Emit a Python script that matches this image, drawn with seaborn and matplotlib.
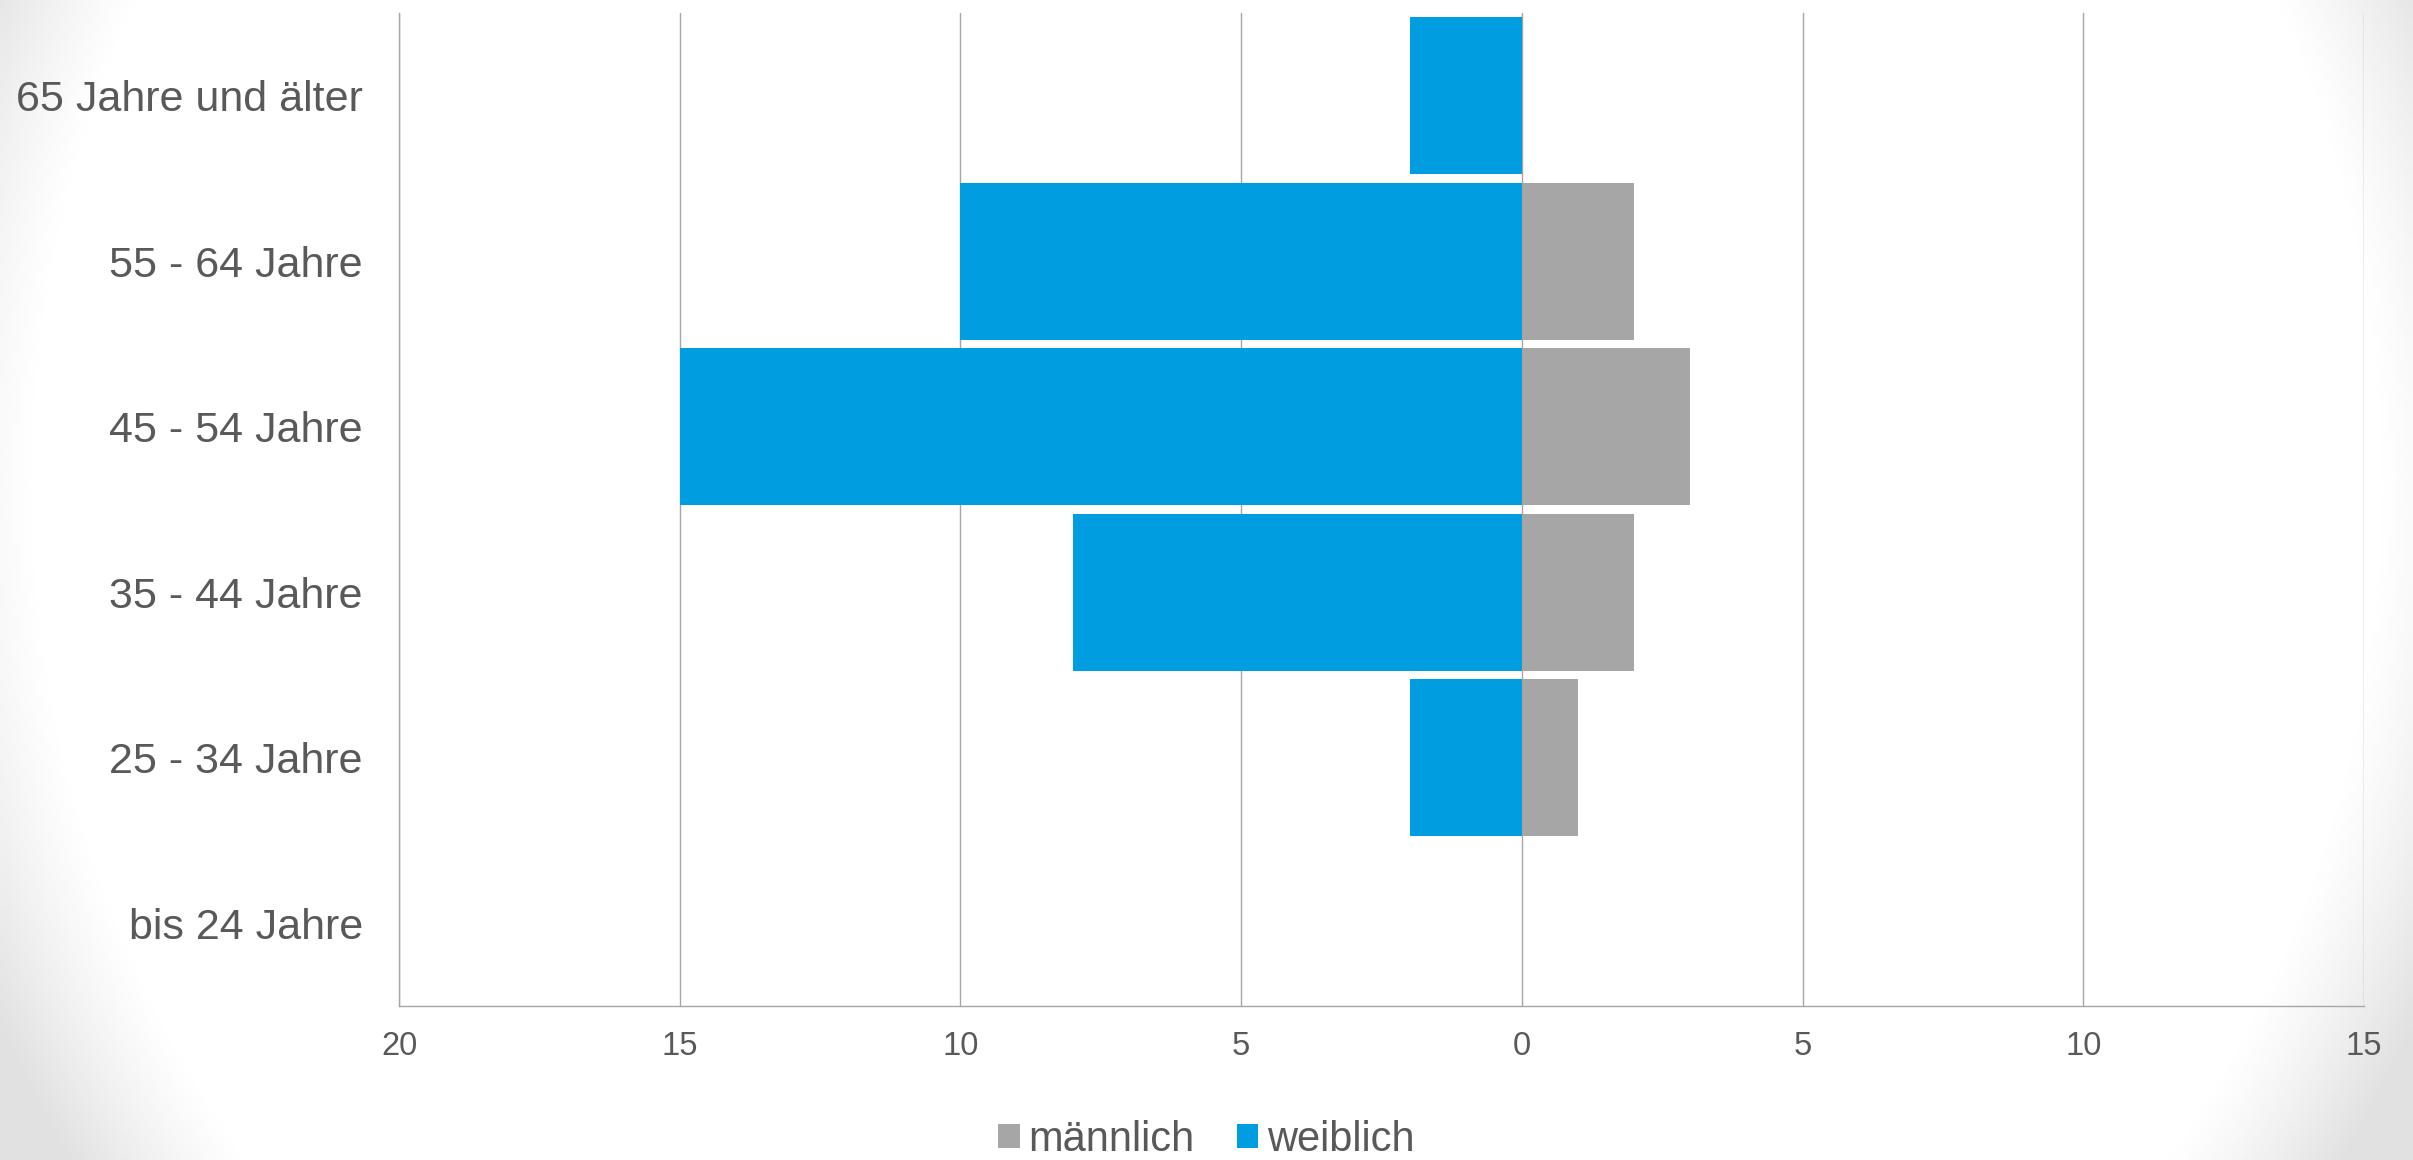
import numpy as np
import pandas as pd
import matplotlib
matplotlib.use("Agg")
import matplotlib.pyplot as plt
from matplotlib.patches import Patch
from matplotlib.ticker import FuncFormatter
import seaborn as sns

categories = ["65 Jahre und älter", "55 - 64 Jahre", "45 - 54 Jahre",
              "35 - 44 Jahre", "25 - 34 Jahre", "bis 24 Jahre"]
maennlich = [0, 2, 3, 2, 1, 0]
weiblich = [2, 10, 15, 8, 2, 0]
series_names = ["männlich", "weiblich"]
x_ticks = [-20, -15, -10, -5, 0, 5, 10, 15]

COL_M = "#A6A6A6"
COL_W = "#009EE0"
TXT = "#595959"
GRID = "#A6A6A6"

sns.set_theme(style="white")
plt.rcParams["font.family"] = ["Liberation Sans", "DejaVu Sans"]

fig = plt.figure(figsize=(24.13, 11.6), dpi=100)

# background vignette (faint on the side edges, strongest in the corners)
bg = fig.add_axes([0, 0, 1, 1], zorder=-10)
yy, xx = np.mgrid[0:1:400j, 0:1:800j]
dx = (xx - 0.5) / 0.5
dy = (yy - 0.4175) / 0.5
r = np.sqrt(dx ** 2 + (0.48 * dy) ** 2)
t = np.clip((r - 0.97) / 0.13, 0, 1) ** 1.2
v = 1 - 0.12 * t
bg.imshow(v, cmap="gray", vmin=0, vmax=1, aspect="auto", extent=[0, 1, 0, 1],
          interpolation="bilinear")
bg.set_axis_off()

ax = fig.add_axes([399 / 2413, 1 - 1006 / 1160, (2364 - 399) / 2413, (1006 - 13) / 1160])
ax.patch.set_visible(False)

df = pd.DataFrame({"Alter": categories,
                   "m": maennlich,
                   "w": [-v_ for v_ in weiblich]})

sns.barplot(data=df, x="w", y="Alter", order=categories, orient="h", color=COL_W,
            saturation=1, width=0.95, linewidth=0, ax=ax, errorbar=None)
sns.barplot(data=df, x="m", y="Alter", order=categories, orient="h", color=COL_M,
            saturation=1, width=0.95, linewidth=0, ax=ax, errorbar=None)

ax.set_xlim(-20, 15)
ax.set_ylim(5.5, -0.5)
ax.set_xticks(x_ticks)
ax.xaxis.set_major_formatter(FuncFormatter(lambda val, pos: f"{abs(int(round(val)))}"))
ax.set_xlabel("")
ax.set_ylabel("")
ax.set_axisbelow(True)
ax.xaxis.grid(True, color=GRID, linewidth=1.0)
ax.yaxis.grid(False)
for s in ["top", "right"]:
    ax.spines[s].set_visible(False)
for s in ["left", "bottom"]:
    ax.spines[s].set_visible(True)
    ax.spines[s].set_color(GRID)
    ax.spines[s].set_linewidth(1.0)
ax.tick_params(axis="x", length=0, pad=18, labelsize=23.5, labelcolor=TXT)
ax.tick_params(axis="y", length=0, pad=26, labelsize=31, labelcolor=TXT)

handles = [Patch(facecolor=COL_M, edgecolor="none", label=series_names[0]),
           Patch(facecolor=COL_W, edgecolor="none", label=series_names[1])]
leg = fig.legend(handles=handles, loc="lower center", bbox_to_anchor=(0.5, 0.0), ncol=2,
                 frameon=False, fontsize=30, handlelength=0.52, handleheight=0.52,
                 handletextpad=0.22, columnspacing=1.0, borderpad=0, borderaxespad=0)
for txt in leg.get_texts():
    txt.set_color(TXT)

fig.savefig("out.png", dpi=100)
